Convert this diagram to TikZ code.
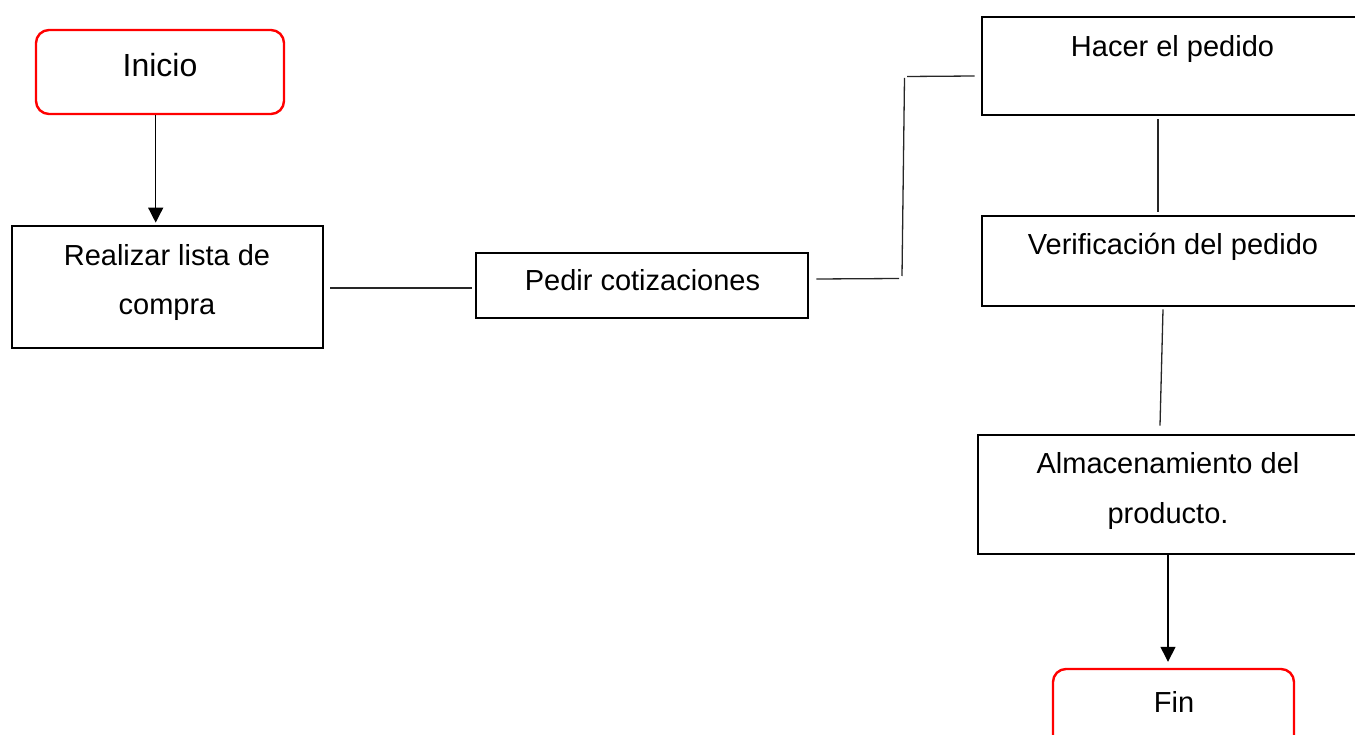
\documentclass[tikz,border=0pt]{standalone}
\usepackage{fontspec}
\setmainfont{Liberation Sans}
\usetikzlibrary{calc,arrows.meta}
\begin{document}
\begin{tikzpicture}[x=1pt,y=-1pt,
 box/.style={draw=black,line width=2.8pt,rectangle,inner sep=0pt},
 term/.style={draw=red,line width=2.4pt,rounded corners=13pt,rectangle,inner sep=0pt},
 txt/.style={anchor=base,font=\fontsize{29}{49}\selectfont,inner sep=0pt},
 conn/.style={line width=1.3pt,draw=black!85},
 arr/.style={line width=1.4pt,-{Triangle[length=15pt,width=15pt]}}]
\useasboundingbox (0,0) rectangle (1355,735);
% boxes
\node[term,minimum width=248pt,minimum height=84pt] (ini) at (160,72) {};
\node[box,minimum width=311pt,minimum height=122pt] (r) at (167.5,287) {};
\node[box,minimum width=332pt,minimum height=65pt] (p) at (642,285.5) {};
\node[box,minimum width=418pt,minimum height=98pt] (h) at (1191,66) {};
\node[box,minimum width=418pt,minimum height=90pt] (v) at (1191,261) {};
\node[box,minimum width=422pt,minimum height=119pt] (a) at (1189,494.5) {};
\node[term,minimum width=241pt,minimum height=91pt] (fin) at (1173.5,714.5) {};
% texts
\node[txt,font=\fontsize{32}{49}\selectfont] (tini) at (160,77) {Inicio};
\node[txt] (tr1) at (167,266) {Realizar lista de};
\node[txt] (tr2) at (167,315) {compra};
\node[txt] (tp) at (642.5,291) {Pedir cotizaciones};
\node[txt] (th) at (1172.5,57) {Hacer el pedido};
\node[txt] (tv) at (1173,255) {Verificación del pedido};
\node[txt] (ta1) at (1168,473) {Almacenamiento del};
\node[txt] (ta2) at (1168,523) {producto.};
\node[txt] (tf) at (1174,712) {Fin};
% connectors
\draw[arr,shorten >=2pt] ([xshift=-4.3pt]ini.south) -- ([xshift=-4.3pt]ini.south |- r.north);
\draw[conn] ($(r.east)+(6,1)$) -- ($(p.west)+(-3,2.5)$);
\coordinate (b1) at (899,278.5);
\coordinate (b2) at (902,276);
\coordinate (b3) at (904.5,78);
\coordinate (b4) at (907,76.5);
\draw[conn] ($(p.east)+(7,-6.5)$) -- (b1);
\draw[conn] (b2) -- (b3);
\draw[conn] (b4) -- ($(h.west)+(-6,10)$);
\draw[conn] ($(h.south)+(-33,3)$) -- ($(v.north)+(-33,-3)$);
\draw[conn] ($(v.south)+(-28,2)$) -- ($(a.north)+(-29,-8)$);
\draw[arr,shorten >=6pt] ([xshift=-21pt]a.south) -- ([xshift=-21pt]a.south |- fin.north);
\end{tikzpicture}
\end{document}
